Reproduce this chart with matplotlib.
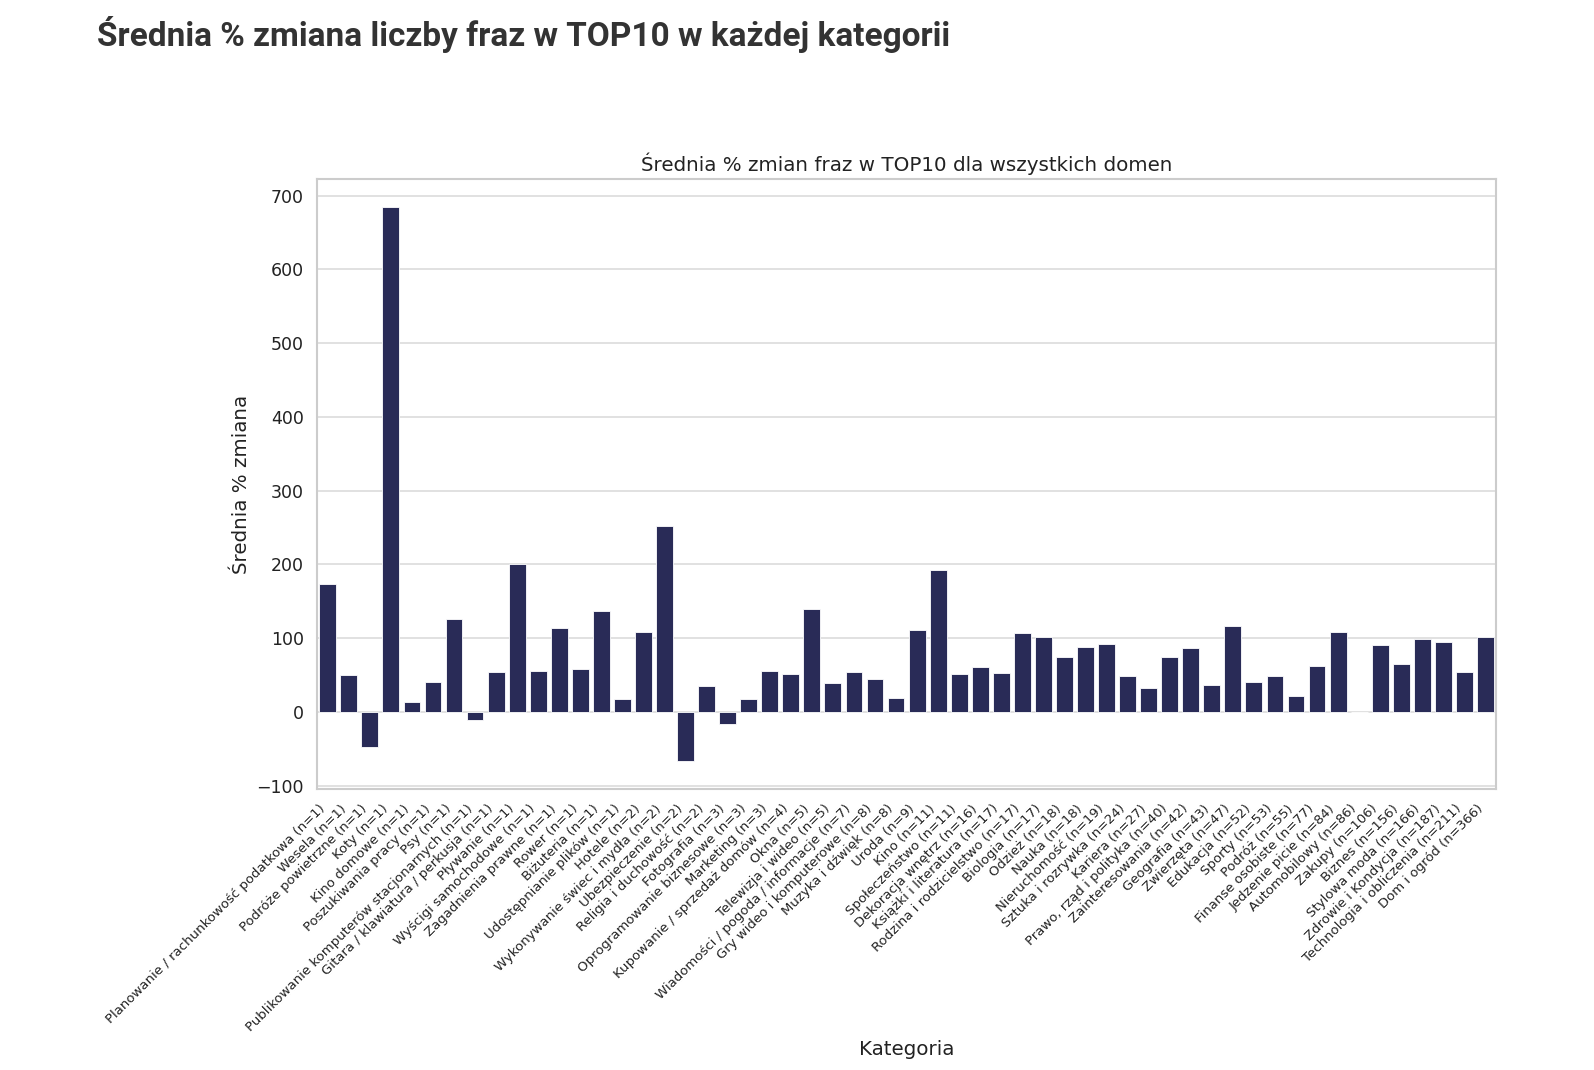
import matplotlib
matplotlib.use("Agg")
import matplotlib.pyplot as plt
import seaborn as sns

categories = [
    "Planowanie / rachunkowość podatkowa (n=1)", "Wesela (n=1)", "Podróże powietrzne (n=1)",
    "Koty (n=1)", "Kino domowe (n=1)", "Poszukiwania pracy (n=1)", "Psy (n=1)",
    "Publikowanie komputerów stacjonarnych (n=1)", "Gitara / klawiatura / perkusja (n=1)",
    "Pływanie (n=1)", "Wyścigi samochodowe (n=1)", "Zagadnienia prawne (n=1)", "Rower (n=1)",
    "Biżuteria (n=1)", "Udostępnianie plików (n=1)", "Hotele (n=2)",
    "Wykonywanie świec i mydła (n=2)", "Ubezpieczenie (n=2)", "Religia i duchowość (n=2)",
    "Fotografia (n=3)", "Oprogramowanie biznesowe (n=3)", "Marketing (n=3)",
    "Kupowanie / sprzedaż domów (n=4)", "Okna (n=5)", "Telewizja i wideo (n=5)",
    "Wiadomości / pogoda / informacje (n=7)", "Gry wideo i komputerowe (n=8)",
    "Muzyka i dźwięk (n=8)", "Uroda (n=9)", "Kino (n=11)", "Społeczeństwo (n=11)",
    "Dekoracja wnętrz (n=16)", "Książki i literatura (n=17)", "Rodzina i rodzicielstwo (n=17)",
    "Biologia (n=17)", "Odzież (n=18)", "Nauka (n=18)", "Nieruchomość (n=19)",
    "Sztuka i rozrywka (n=24)", "Kariera (n=27)", "Prawo, rząd i polityka (n=40)",
    "Zainteresowania (n=42)", "Geografia (n=43)", "Zwierzęta (n=47)", "Edukacja (n=52)",
    "Sporty (n=53)", "Podróż (n=55)", "Finanse osobiste (n=77)", "Jedzenie picie (n=84)",
    "Automobilowy (n=86)", "Zakupy (n=106)", "Biznes (n=156)", "Stylowa moda (n=166)",
    "Zdrowie i Kondycja (n=187)", "Technologia i obliczenia (n=211)", "Dom i ogród (n=366)",
]

mean_change = [
    173, 50, -47, 685, 14, 41, 126, -11, 54, 200, 55, 114, 58, 137, 17, 109,
    252, -67, 35, -16, 17, 56, 51, 140, 39, 54, 45, 19, 111, 192, 51, 61,
    53, 107, 101, 74, 88, 92, 49, 33, 75, 87, 36, 117, 40, 48, 21, 62,
    108, 0, 91, 65, 99, 95, 54, 101,
]

sns.set_theme(style="whitegrid")
plt.rcParams["font.family"] = ["DejaVu Sans"]

fig = plt.figure(figsize=(15.94, 10.70), dpi=100)
ax = fig.add_axes([0.199, 0.2626, 0.7395, 0.5701])

x = range(len(categories))
ax.bar(x, mean_change, width=0.8, color="#292b57", edgecolor="white", linewidth=0.6, zorder=2)
ax.set_xlim(-0.5, len(categories) - 0.5)
ax.margins(y=0.05)
ax.grid(axis="x", visible=False)
ax.grid(axis="y", color="#dcdcdc", linewidth=1.2)

ax.set_xticks(list(x))
ax.set_xticklabels(categories, rotation=45, ha="right", fontsize=9.5, color="#222222")
ax.tick_params(axis="y", labelsize=12.5, colors="#222222")
ax.set_title("Średnia % zmian fraz w TOP10 dla wszystkich domen", fontsize=14.3, color="#222222")
ax.set_xlabel("Kategoria", fontsize=14.3, color="#222222")
ax.set_ylabel("Średnia % zmiana", fontsize=14.3, color="#222222")
for s in ax.spines.values():
    s.set_color("#cccccc")
    s.set_linewidth(1.5)

fig.text(0.061, 0.957, "Średnia % zmiana liczby fraz w TOP10 w każdej kategorii",
         fontsize=24, fontweight="bold", family=["Roboto", "DejaVu Sans"],
         color="#333333", ha="left", va="baseline")

fig.savefig("out.png", dpi=100, facecolor="white")
